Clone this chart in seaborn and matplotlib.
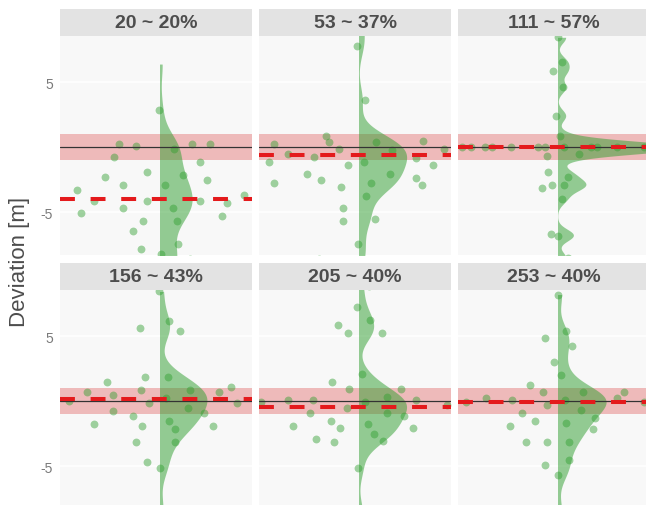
import numpy as np
import pandas as pd
import seaborn as sns
import matplotlib.pyplot as plt
from matplotlib.patches import Rectangle

sns.set_style("white")
plt.rcParams["font.family"] = ["Liberation Sans", "DejaVu Sans"]

# ---- data -------------------------------------------------------------
titles = ["20 ~ 20%", "53 ~ 37%", "111 ~ 57%", "156 ~ 43%", "205 ~ 40%", "253 ~ 40%"]

# deviation of each observation [m] and its horizontal jitter position
dev_20 = [2.87, 0.25, 0.08, -0.72, -0.15, 0.25, 0.25, -1.13, -1.92, -2.13, -2.33, -2.90,
          -2.90, -2.50, -3.31, -4.13, -4.13, -4.13, -4.28, -3.69, -5.08, -4.69, -4.69,
          -5.69, -5.69, -5.31, -6.46, -7.85, -7.49, -8.20, 6.40, -8.60, -8.90, -9.30,
          -9.80, -10.5, -11.5]
jit_20 = [-0.01, -0.41, -0.24, -0.46, 0.14, 0.32, 0.50, 0.40, -0.13, 0.23, -0.55, 0.05,
          -0.37, 0.47, -0.83, -0.65, -0.13, 0.40, 0.67, 0.84, -0.78, -0.37, 0.13,
          0.17, -0.17, 0.62, -0.27, -0.19, 0.18, 0.01, -1.12, 0.30, -0.52, 0.08,
          -0.26, 0.58, -0.70]

dev_53 = [7.79, 3.64, 0.87, 0.43, 0.25, 0.43, 0.46, -0.15, -0.54, -0.72, -0.18, -0.15,
          -0.80, -1.15, -1.15, -1.34, -1.34, -2.10, -2.10, -2.34, -2.72, -2.54, -2.72,
          -2.92, -3.10, -3.75, -4.69, -5.67, -5.49, -7.49, 9.20, -8.60]
jit_53 = [-0.02, 0.06, -0.33, -0.30, -0.85, 0.17, 0.64, -0.20, -0.71, -0.45, 0.33, 0.85,
          0.57, -0.90, 0.05, -0.11, 0.74, 0.31, -0.52, 0.57, -0.85, -0.38, 0.12,
          0.63, -0.18, 0.07, -0.16, -0.16, 0.16, -0.01, 0.20, -0.40]

dev_111 = [8.46, 6.59, 5.85, 4.62, 2.43, 0.87, 0.0, 0.0, 0.0, 0.0, 0.0, 0.0, 0.0, 0.0,
           0.0, 0.0, 0.0, 0.0, -0.64, -0.54, -1.92, -2.33, -2.90, -3.13, -2.90, -3.97,
           -6.67, -6.87, -8.50, 0.0, 0.0, 0.0]
jit_111 = [0.00, 0.04, -0.05, 0.05, -0.02, 0.02, -0.96, -0.87, -0.73, -0.66, -0.47, -0.20,
           -0.13, 0.06, 0.33, 0.39, 0.59, 0.86, -0.11, 0.21, -0.10, 0.10, -0.06, -0.16,
           0.06, 0.04, -0.07, 0.00, 0.10, -1.10, 1.00, 1.05]

dev_156 = [8.45, 6.20, 5.64, 5.43, 1.88, 1.88, 1.44, 1.08, 0.67, 0.85, 0.87, 0.67, 0.49,
           0.00, -0.13, 0.28, -0.13, -0.52, -0.75, -0.93, -1.13, -1.72, -1.52, -1.93,
           -1.91, -2.16, -3.11, -3.11, -4.69, -5.12, -8.40]
jit_156 = [-0.01, 0.09, -0.20, 0.20, -0.15, 0.08, -0.53, 0.71, -0.73, -0.19, 0.30, 0.59,
           -0.47, -0.90, -0.11, 0.06, 0.77, 0.28, -0.47, 0.44, -0.27, -0.66, 0.09, -0.18,
           0.53, 0.15, -0.24, 0.15, -0.13, 0.00, 0.30]

dev_205 = [7.24, 6.26, 5.85, 5.28, 5.26, 2.09, 1.47, 0.90, 0.90, 0.08, 0.08, -0.10, 0.33,
           0.08, -0.28, -0.51, -0.90, -0.90, -1.13, -1.91, -1.52, -1.72, -2.10, -2.10,
           -2.49, -2.93, -3.11, -3.09, -5.12, -0.10, 8.90, -8.60]
jit_205 = [-0.02, 0.11, -0.21, -0.11, 0.23, 0.03, -0.27, -0.10, 0.42, -0.71, -0.46, 0.06,
           0.28, 0.57, 0.88, -0.12, -0.49, 0.28, 0.45, -0.66, -0.28, 0.09, -0.19, 0.54,
           0.15, -0.43, -0.25, 0.24, -0.01, -0.98, 0.10, -0.20]

dev_253 = [8.21, 5.43, 4.84, 4.23, 3.04, 2.03, 1.26, 0.67, 0.67, 0.67, 0.28, 0.28, -0.10,
           0.08, -0.31, 0.10, -0.70, -0.10, -0.93, -1.31, -1.52, -1.91, -1.70, -2.11,
           -3.11, -3.11, -3.11, -4.50, -4.92, -5.72, -8.50]
jit_253 = [0.00, 0.08, -0.13, 0.14, -0.04, 0.03, -0.28, -0.15, 0.25, 0.66, 0.59, -0.72,
           -0.92, -0.46, -0.11, 0.07, 0.23, 0.86, -0.36, 0.37, -0.23, -0.48, 0.08, 0.35,
           -0.32, -0.11, 0.11, 0.11, -0.13, 0.00, 0.20]

# central deviation per group (dashed red line)
bias = [-3.98, -0.60, 0.00, 0.20, -0.46, -0.05]

# kernel bandwidth [m] for each half violin
kde_bw = [1.2, 1.0, 0.45, 1.1, 0.95, 0.95]

devs = [dev_20, dev_53, dev_111, dev_156, dev_205, dev_253]
jits = [jit_20, jit_53, jit_111, jit_156, jit_205, jit_253]

frames = []
for t, d, j in zip(titles, devs, jits):
    frames.append(pd.DataFrame({"group": t, "deviation": d, "jitter": j}))
df = pd.concat(frames, ignore_index=True)

# ---- styling ----------------------------------------------------------
GREEN = "#2E9E2E"
RED = "#E41A1C"
BAND = "#D9383A"
PANEL_BG = "#F8F8F8"
STRIP_BG = "#E3E3E3"

W, H = 646, 506
fig = plt.figure(figsize=(W / 100, H / 100), dpi=100)
fig.patch.set_facecolor("white")

col_x = [60, 259, 458]
row_top = [37, 291]
pw, ph = 192, 219
strip_h = 27

HALF = 0.34          # density units spanned by half a panel
YLIM = (-8.3, 8.56)

for i, title in enumerate(titles):
    r, c = divmod(i, 3)
    ax = fig.add_axes([col_x[c] / W, 1 - (row_top[r] + ph) / H, pw / W, ph / H])
    ax.set_facecolor(PANEL_BG)
    for s in ax.spines.values():
        s.set_visible(False)

    sub = df[df["group"] == title].copy()
    sub["x"] = sub["jitter"] * HALF

    ax.axhspan(-1, 1, color=BAND, alpha=0.32, lw=0, zorder=1)

    sns.scatterplot(data=sub, x="x", y="deviation", ax=ax, color=GREEN, alpha=0.45,
                    s=32, linewidth=0, zorder=2)

    vals = sub["deviation"].to_numpy()
    sns.kdeplot(y=vals, ax=ax, fill=True, cut=0, color=GREEN, alpha=0.5, linewidth=0,
                bw_method=kde_bw[i] / vals.std(ddof=1), gridsize=512, zorder=3)

    ax.axhline(0, color="#333333", lw=0.9, zorder=4)
    ax.axhline(bias[i], color=RED, lw=2.9, ls=(0, (3.7, 3.9)), zorder=5)

    ax.set_xlim(-0.995 * HALF, 0.925 * HALF)
    ax.set_ylim(*YLIM)
    ax.set_xlabel("")
    ax.set_ylabel("")
    ax.set_xticks([])
    ax.set_yticks([-5, 0, 5])
    ax.yaxis.grid(True, color="white", lw=1.1)
    ax.set_axisbelow(True)
    ax.tick_params(axis="y", length=0, pad=5, labelsize=10, labelcolor="#7A7A7A")
    if c == 0:
        ax.set_yticklabels(["-5", "", "5"])
    else:
        ax.set_yticklabels([])

    # facet strip
    ax.add_patch(Rectangle((0, 1), 1, strip_h / ph, transform=ax.transAxes,
                           facecolor=STRIP_BG, edgecolor="none", clip_on=False))
    ax.text(0.5, 1 + strip_h / ph / 2, title, transform=ax.transAxes, ha="center",
            va="center", fontsize=14, fontweight="bold", color="#4D4D4D")

fig.text(20 / W, 0.482, "Deviation [m]", rotation=90, ha="center", va="center",
         fontsize=16, color="#4D4D4D")

fig.savefig("out.png", dpi=100, facecolor="white")
